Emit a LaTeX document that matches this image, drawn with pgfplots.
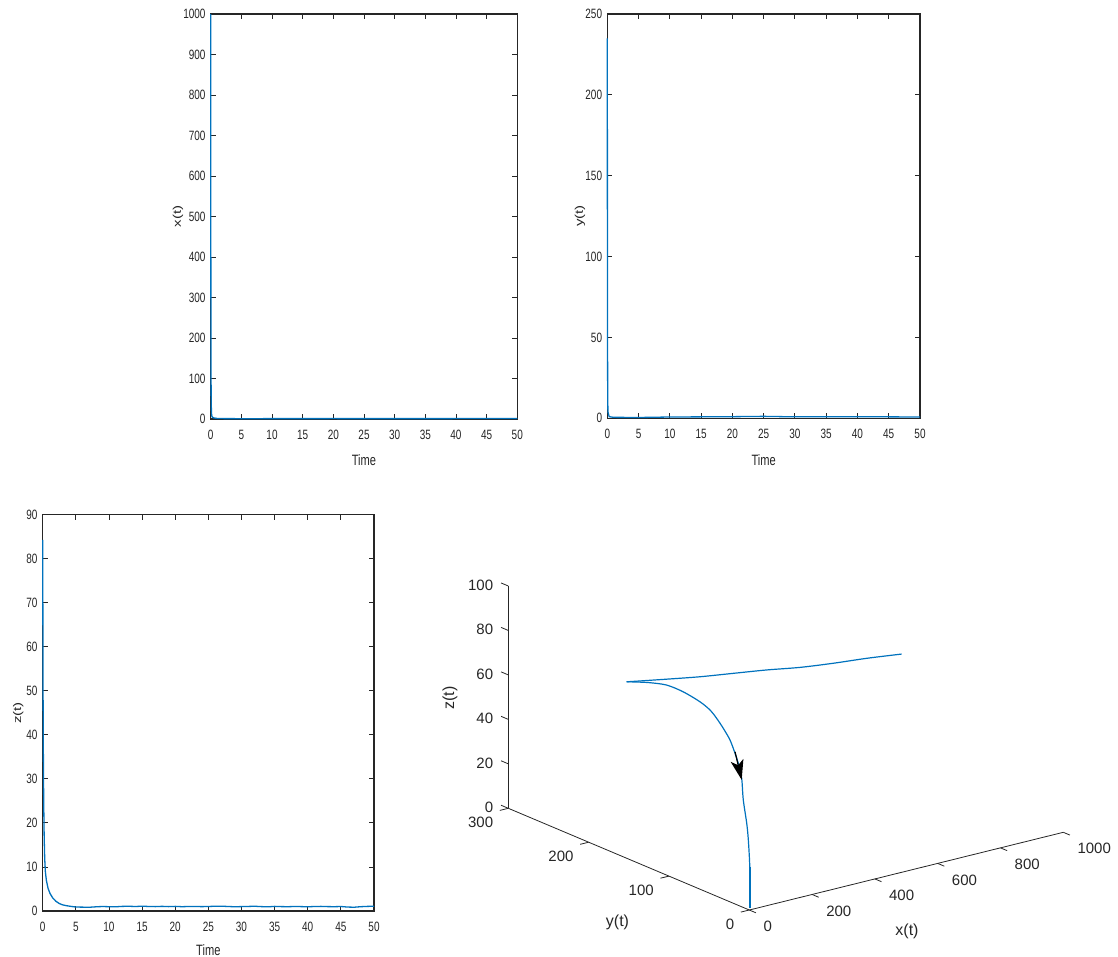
\documentclass[border=0pt]{standalone}
\usepackage{fontspec}
\setmainfont{Liberation Sans}
\newfontfamily\nar[FakeStretch=0.74]{Liberation Sans}
\usepackage{graphicx}
\usepackage{pgfplots}
\pgfplotsset{compat=1.18}
\usetikzlibrary{arrows.meta}

\definecolor{axgray}{RGB}{38,38,38}
\definecolor{mblue}{RGB}{0,114,189}

\newcommand\tdf{\fontsize{15}{15}\selectfont}
\tikzset{tl/.style={font=\tdf, text=axgray, inner sep=0pt}}

% time-series panels (MATLAB look, horizontally squeezed text)
\pgfplotsset{
  ts/.style={
    scale only axis,
    xmin=0, xmax=50, xtick={0,5,...,50},
    ymin=0,
    axis line style={draw=axgray, line width=1.3pt},
    every tick/.style={draw=axgray, line width=0.9pt},
    major tick length=5pt,
    tick align=inside,
    minor tick num=0,
    /pgf/number format/assume math mode=true,
    /pgf/number format/1000 sep={},
    tick label style={font=\nar\fontsize{13.5}{13.5}\selectfont, text=axgray, inner sep=0pt},
    xticklabel style={anchor=north, yshift=-11pt},
    yticklabel style={anchor=east, xshift=-5pt},
    label style={text=axgray, inner sep=0pt},
    xlabel={\nar\fontsize{15}{15}\selectfont Time},
    clip=false,
  },
  ser/.style={mblue, line width=1.3pt},
}

\begin{document}
\begin{tikzpicture}
\path[use as bounding box] (0pt,0pt) rectangle (1118pt,-957pt);

% ---- x(t)
\begin{axis}[ts, at={(210.7pt,-419pt)}, anchor=south west,
  width=306.6pt, height=405pt,
  ymax=1000, ytick={0,100,...,1000},
  xlabel style={at={(axis description cs:0.5,-0.101)}, anchor=center},
  ylabel={\scalebox{1}[0.74]{\fontsize{15}{15}\selectfont x(t)}},
  ylabel style={at={(axis description cs:-0.1067,0.5)}, anchor=center}]
  \addplot[ser] coordinates {(0,1000)(0.01,700)(0.02,450)(0.04,200)(0.07,60)
    (0.12,15)(0.2,6)(0.4,3)(1,1.5)(2,1)(5,0.8)(10,0.9)(20,1)(30,0.9)(40,1)(50,1)};
\end{axis}

% ---- y(t)
\begin{axis}[ts, at={(607.3pt,-418.3pt)}, anchor=south west,
  width=312.7pt, height=404.3pt,
  ymax=250, ytick={0,50,...,250},
  xlabel style={at={(axis description cs:0.5,-0.103)}, anchor=center},
  ylabel={\scalebox{1}[0.74]{\fontsize{15}{15}\selectfont y(t)}},
  ylabel style={at={(axis description cs:-0.0873,0.5)}, anchor=center}]
  \addplot[ser] coordinates {(0,235)(0.01,150)(0.03,60)(0.06,15)(0.1,4)(0.3,1)
    (1,0.6)(5,0.5)(10,0.8)(20,1)(25,1.2)(30,0.9)(40,1)(50,0.8)};
\end{axis}

% ---- z(t)
\begin{axis}[ts, at={(42.7pt,-911pt)}, anchor=south west,
  width=331.3pt, height=396.3pt,
  ymax=90, ytick={0,10,...,90},
  xlabel style={at={(axis description cs:0.5,-0.0984)}, anchor=center},
  ylabel={\scalebox{1}[0.74]{\fontsize{15}{15}\selectfont z(t)}},
  ylabel style={at={(axis description cs:-0.0737,0.5)}, anchor=center}]
  \addplot[ser] coordinates {(0,84.3)(0.03,65)(0.06,48)(0.1,35)(0.15,25)(0.22,17)
    (0.3,12)(0.4,9)(0.55,7)(0.8,5.2)(1.1,4)(1.5,3)(2,2.2)(2.5,1.7)(3,1.4)(3.6,1.2)
    (4.5,1.0)(5,0.9)(6,0.88)(7,0.85)(8,0.95)(9,1.02)(10,0.98)(11,0.96)(12,1.05)
    (13,1.08)(14,1.02)(15,1.1)(16,1.03)(17,1.0)(18,1.06)(19,1.0)(20,1.05)(21,0.98)
    (22,1.02)(23,1.04)(24,0.99)(25,1.03)(26,1.08)(27,1.1)(28,1.02)(29,0.97)(30,1.0)
    (31,1.04)(32,1.08)(33,1.0)(34,0.95)(35,1.05)(36,1.0)(37,0.98)(38,1.02)(39,1.0)
    (40,0.96)(41,1.02)(42,1.05)(43,1.0)(44,0.98)(45,1.02)(46,0.9)(47,0.86)(48,0.98)
    (49,1.05)(50,1.08)};
\end{axis}

% ---- phase portrait
\begin{axis}[at={(749.3pt,-910pt)}, anchor=origin,
  x={(0.314pt,0.0777pt)}, y={(-0.8033pt,0.339pt)}, z={(0pt,2.223pt)},
  xmin=0, xmax=1000, ymin=0, ymax=300, zmin=0, zmax=100,
  hide axis, clip=false]
  % axis lines and ticks
  \draw[axgray, line width=0.8pt] (axis cs:0,300,0) -- (axis cs:0,0,0) -- (axis cs:1000,0,0);
  \draw[axgray, line width=1.4pt] (axis cs:0,300,0) -- (axis cs:0,300,100);
  \pgfplotsinvokeforeach{0,200,400,600,800,1000}{
    \draw[axgray, line width=0.8pt] (axis cs:#1,0,0) -- (axis cs:#1,-8.2,0);
    \node[tl, anchor=north west, xshift=14pt, yshift=-11pt] at (axis cs:#1,0,0) {#1};
  }
  \pgfplotsinvokeforeach{0,100,200,300}{
    \draw[axgray, line width=0.8pt] (axis cs:0,#1,0) -- (axis cs:-27,#1,0);
    \node[tl, anchor=north east, xshift=-15pt, yshift=-9pt] at (axis cs:0,#1,0) {#1};
  }
  \pgfplotsinvokeforeach{0,20,40,60,80,100}{
    \draw[axgray, line width=0.8pt] (axis cs:0,300,#1) -- (axis cs:0,309,#1);
    \node[tl, anchor=east, xshift=-15pt, yshift=1pt] at (axis cs:0,300,#1) {#1};
  }
  % trajectory
  \addplot3[mblue, line width=1.2pt, smooth] coordinates {
    (1000,201.2,49.5)(872.7,194.9,53.0)(751.3,189.1,55.9)(630,183.1,59.2)
    (508.7,177.1,63.2)(387.3,171.3,66.8)(266.2,165.4,70.4)(145.5,159.7,74.4)
    (24.4,154.0,78.5)(0,152.6,79.4)};
  \addplot3[mblue, line width=1.2pt, smooth] coordinates {
    (0,152.6,79.4)(0,138.6,81.4)(0,123.6,83.4)(0,102.8,85.5)(0,82.2,85.6)
    (0,61.4,84.3)(0,48.9,82.5)(0,40.6,80.0)(0,32.4,76.8)(0,24.0,72.8)
    (0,17.8,67.8)(0,13.7,63.9)(0,9.5,57.8)(0,7.5,48.4)(0,3.2,38.5)
    (0,1.2,31.3)(1.5,0,19.5)(1.5,0,9.0)(1.5,0,1)};
  \addplot3[mblue, line width=2.2pt] coordinates {(1.5,0,19.5)(1.5,0,1)};
  % direction arrow
  \addplot3[black, line width=1.2pt, -{Stealth[length=20pt, width=13pt, inset=5pt]}]
    coordinates {(0,17.8,68.5)(0,9.5,57.1)};
\end{axis}

\node[text=axgray, font=\fontsize{16}{16}\selectfont, inner sep=0pt] at (907pt,-931pt) {x(t)};
\node[text=axgray, font=\fontsize{16}{16}\selectfont, inner sep=0pt] at (617.5pt,-922pt) {y(t)};
\node[text=axgray, font=\fontsize{16}{16}\selectfont, inner sep=0pt, rotate=90] at (450pt,-698pt) {z(t)};
\end{tikzpicture}
\end{document}
